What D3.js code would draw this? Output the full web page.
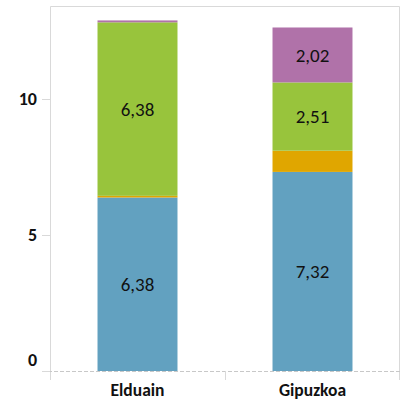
<!DOCTYPE html>
<html>
<head>
<meta charset="utf-8">
<script src="https://cdn.jsdelivr.net/npm/d3@7"></script>
<style>
  body { margin: 0; background: #fff; }
  svg { display: block; }
</style>
</head>
<body>
<svg id="svg" width="408" height="401"></svg>
<script>
// data
let categories = ["Elduain", "Gipuzkoa"];
let seriesNames = ["s1", "s2", "s3", "s4"];
let blueValues = [6.38, 7.32];
let orangeValues = [0.06, 0.78];
let greenValues = [6.38, 2.51];
let purpleValues = [0.07, 2.02];
let yTicks = [0, 5, 10];

let colours = ["#62a1c0", "#e0a600", "#98c43c", "#b072a9"];

let svg = d3.select("#svg");
const width = 408, height = 401;
const plotLeft = 50, plotRight = 400, plotTop = 6, plotBottom = 371;

let rows = categories.map((c, i) => ({
    cat: c,
    s1: blueValues[i],
    s2: orangeValues[i],
    s3: greenValues[i],
    s4: purpleValues[i]
}));

let stack = d3.stack().keys(seriesNames)(rows);

let xScale = d3.scaleBand()
    .domain(categories)
    .range([plotLeft, plotRight])
    .paddingInner(0.543)
    .paddingOuter(0.2715);

let yScale = d3.scaleLinear()
    .domain([0, 13.42])
    .range([plotBottom, plotTop]);

const font = "Calibri, Lato, 'Open Sans', sans-serif";

// frame
svg.append("path")
    .attr("d", `M${plotLeft + 0.5},380 V${plotTop + 0.5} H${plotRight - 0.5} V380`)
    .attr("fill", "none")
    .attr("stroke", "#d9d9d9")
    .attr("stroke-width", 1);

// bars
let groups = svg.selectAll(".series")
    .data(stack)
    .enter().append("g")
    .attr("class", "series")
    .attr("fill", (d, i) => colours[i]);

groups.selectAll("rect")
    .data(d => d)
    .enter().append("rect")
    .attr("x", d => xScale(d.data.cat))
    .attr("y", d => yScale(d[1]))
    .attr("width", xScale.bandwidth())
    .attr("height", d => yScale(d[0]) - yScale(d[1]));

// value labels on the big segments
groups.selectAll("text")
    .data(d => d.filter(p => p[1] - p[0] > 1))
    .enter().append("text")
    .attr("x", d => xScale(d.data.cat) + xScale.bandwidth() / 2)
    .attr("y", d => yScale((d[0] + d[1]) / 2))
    .attr("dy", "0.35em")
    .attr("text-anchor", "middle")
    .style("font-family", font)
    .style("font-size", "19px")
    .style("fill", "#111")
    .text(d => d3.format(".2f")(d[1] - d[0]).replace(".", ","));

// dashed baseline
svg.append("line")
    .attr("x1", 42).attr("x2", plotRight)
    .attr("y1", plotBottom + 0.5).attr("y2", plotBottom + 0.5)
    .attr("stroke", "#c8c8c8")
    .attr("stroke-dasharray", "4,2");

// category separator tick
svg.append("line")
    .attr("x1", plotLeft + xScale.step() + 0.5).attr("x2", plotLeft + xScale.step() + 0.5)
    .attr("y1", plotBottom).attr("y2", 380)
    .attr("stroke", "#d9d9d9");

// y axis ticks and labels
let yAxis = svg.append("g").attr("class", "y-axis");
yAxis.selectAll("line")
    .data(yTicks)
    .enter().append("line")
    .attr("x1", 42).attr("x2", plotLeft)
    .attr("y1", d => Math.round(yScale(d)) + 0.5)
    .attr("y2", d => Math.round(yScale(d)) + 0.5)
    .attr("stroke", "#d9d9d9");

yAxis.selectAll("text")
    .data(yTicks)
    .enter().append("text")
    .attr("x", 37)
    .attr("y", d => d === 0 ? yScale(d) - 11 : yScale(d))
    .attr("dy", "0.35em")
    .attr("text-anchor", "end")
    .style("font-family", font)
    .style("font-size", "18px")
    .style("font-weight", "bold")
    .style("fill", "#111")
    .text(d => d);

// x labels
svg.selectAll(".x-label")
    .data(categories)
    .enter().append("text")
    .attr("class", "x-label")
    .attr("x", d => xScale(d) + xScale.bandwidth() / 2)
    .attr("y", 390)
    .attr("dy", "0.35em")
    .attr("text-anchor", "middle")
    .style("font-family", font)
    .style("font-size", "17.5px")
    .style("font-weight", "bold")
    .style("fill", "#111")
    .text(d => d);
</script>
</body>
</html>
